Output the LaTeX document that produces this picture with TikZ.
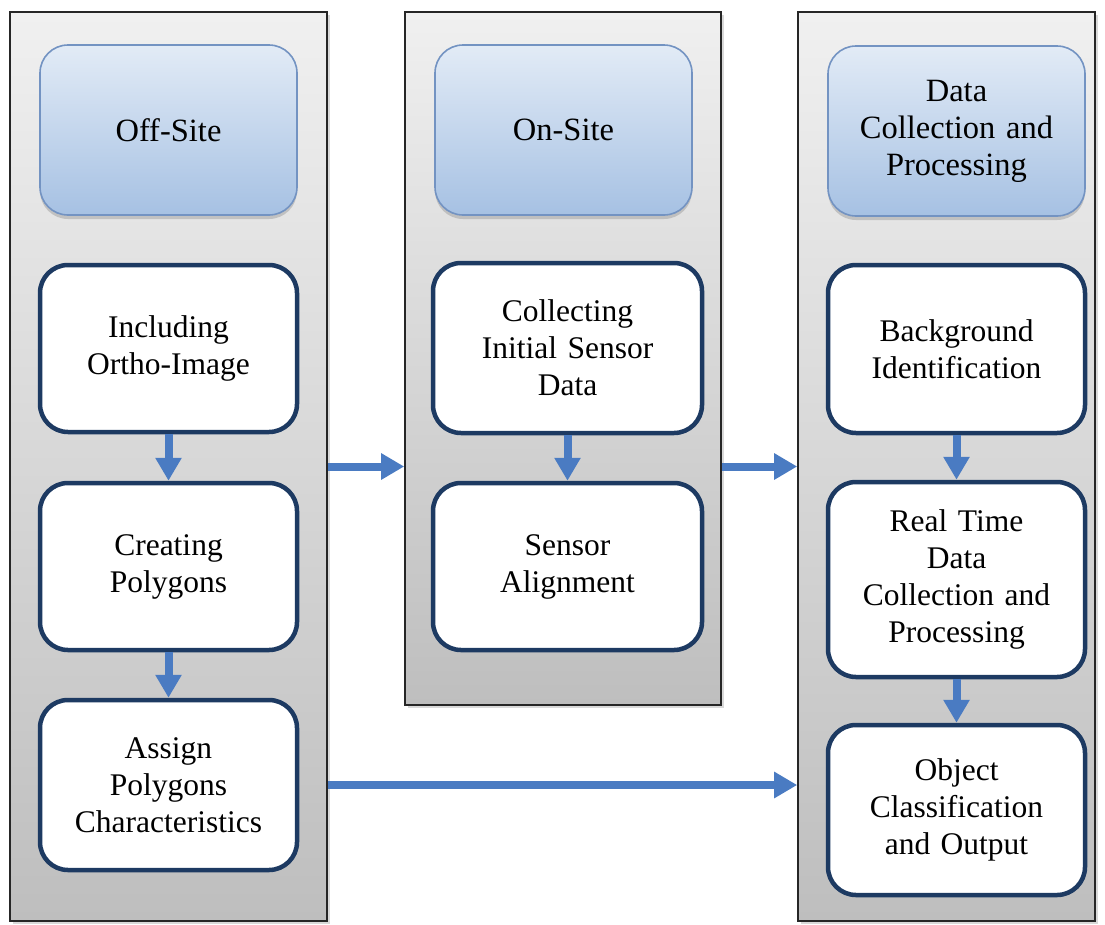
\documentclass[tikz,border=0pt]{standalone}
\usepackage{fontspec}
\setmainfont{Liberation Serif}
\usetikzlibrary{arrows.meta,shadows}
\definecolor{arrowblue}{HTML}{4A7BC2}
\definecolor{boxnavy}{HTML}{1D3A62}
\definecolor{headedge}{HTML}{7393C2}
\definecolor{headtop}{HTML}{E2EBF6}
\definecolor{headbot}{HTML}{A6C1E3}
\definecolor{coltop}{HTML}{F0F0F0}
\definecolor{colbot}{HTML}{BEBEBE}
\tikzset{
  panel/.style={draw=black!85, line width=1.6pt, shading=axis,
    top color=coltop, bottom color=colbot, inner sep=0pt,
    drop shadow={shadow xshift=3pt, shadow yshift=-3pt, opacity=0.3}},
  header/.style={draw=headedge, line width=1.6pt, rounded corners=28pt,
    shading=axis, top color=headtop, bottom color=headbot,
    minimum width=257pt, minimum height=170pt, inner sep=0pt,
    text width=240pt, align=center,
    font=\fontsize{32.5}{37}\selectfont,
    drop shadow={shadow xshift=0pt, shadow yshift=-4pt, opacity=0.35}},
  stepbox/.style={draw=boxnavy, line width=4.5pt, rounded corners=28pt,
    fill=white, inner sep=0pt, text width=240pt, align=center,
    font=\fontsize{31.5}{37}\selectfont},
  flow/.style={draw=arrowblue, line width=8pt,
    -{Triangle[length=23pt,width=25pt]}},
}
\begin{document}
\begin{tikzpicture}[x=1pt,y=-1pt]
\useasboundingbox (0,0) rectangle (1105,924);
% three phase panels
\node[panel, minimum width=317pt, minimum height=909pt] (c1) at (168.5,466.5) {};
\node[panel, minimum width=316pt, minimum height=693pt] (c2) at (563,358.5) {};
\node[panel, minimum width=297pt, minimum height=909pt] (c3) at (946.5,466.5) {};
% phase headers
\node[header] (h1) at (168.5,130) {Off-Site};
\node[header] (h2) at (563.5,130) {On-Site};
\node[header] (h3) at (956.5,131) {Data\\Collection and\\Processing};
% off-site steps
\node[stepbox, minimum width=257pt, minimum height=167pt] (b1) at (168.5,348.5) {Including\\Ortho-Image};
\node[stepbox, minimum width=257pt, minimum height=167pt] (b2) at (168.5,566.5) {Creating\\Polygons};
\node[stepbox, minimum width=257pt, minimum height=170pt] (b3) at (168.5,785) {Assign\\Polygons\\Characteristics};
% on-site steps
\node[stepbox, minimum width=269pt, minimum height=170pt] (m1) at (567.5,348) {Collecting\\Initial Sensor\\Data};
\node[stepbox, minimum width=269pt, minimum height=167pt] (m2) at (567.5,566.5) {Sensor\\Alignment};
% data collection steps
\node[stepbox, minimum width=257pt, minimum height=168pt] (r1) at (956.5,349) {Background\\Identification};
\node[stepbox, minimum width=257pt, minimum height=195pt] (r2) at (956.5,579.5) {Real Time\\Data\\Collection and\\Processing};
\node[stepbox, minimum width=257pt, minimum height=170pt] (r3) at (956.5,810) {Object\\Classification\\and Output};
% flow inside panels
\draw[flow] (b1.south) -- (b2.north);
\draw[flow] (b2.south) -- (b3.north);
\draw[flow] (m1.south) -- (m2.north);
\draw[flow] (r1.south) -- (r2.north);
\draw[flow] (r2.south) -- (r3.north);
% flow between panels
\draw[flow] (c1.east) -- (c2.west |- c1.east);
\draw[flow] (c2.east |- c3.west) -- (c3.west);
\draw[flow] (c1.east |- b3.east) -- (c3.west |- b3.east);
\end{tikzpicture}
\end{document}
